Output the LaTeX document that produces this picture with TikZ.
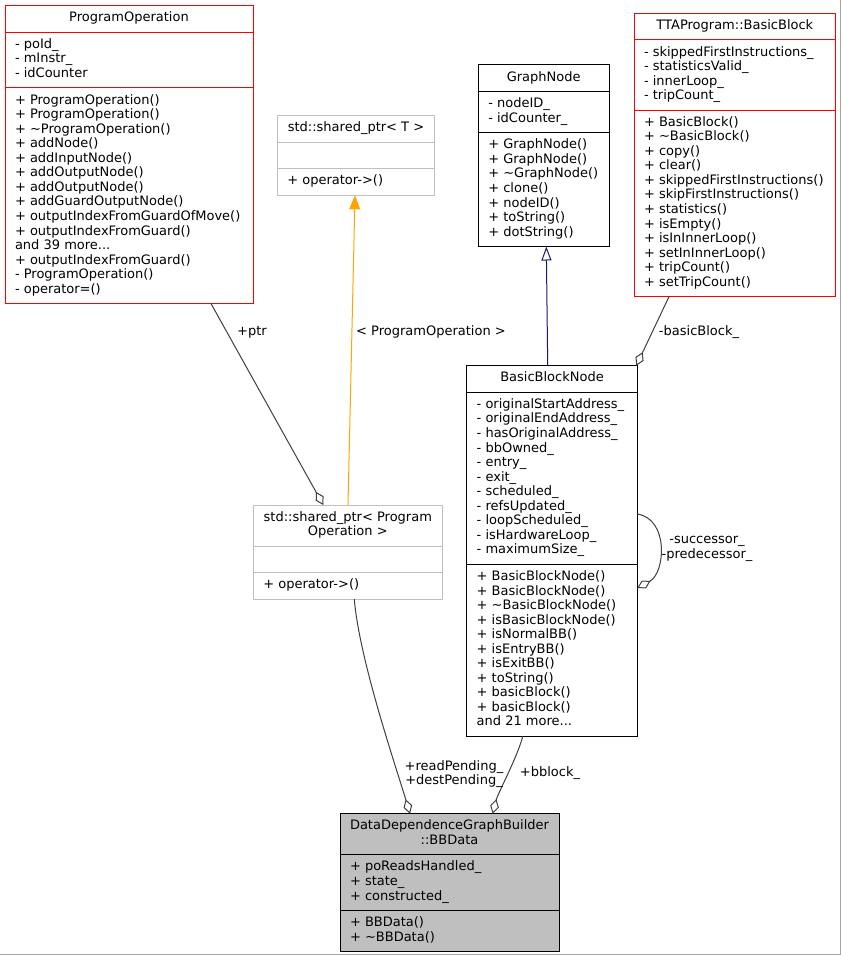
\documentclass[tikz,border=0pt]{standalone}
\usepackage{fontspec}
\setmainfont{DejaVu Sans}
\usetikzlibrary{shapes.multipart,arrows.meta}

\definecolor{edgegray}{RGB}{64,64,64}
\definecolor{inheritblue}{RGB}{25,25,112}
\definecolor{tmplorange}{RGB}{255,165,0}
\definecolor{boxgray}{RGB}{191,191,191}
\definecolor{boxred}{RGB}{255,0,0}

\newcommand{\dgfont}{\fontsize{13}{14.55}\selectfont}
\newcommand{\rows}[1]{\begin{tabular}{@{}l@{}}#1\end{tabular}}
\newcommand{\ctitle}[1]{\begin{tabular}{@{}c@{}}#1\end{tabular}}

\begin{document}
\begin{tikzpicture}[x=1pt, y=-1pt]
    \useasboundingbox (0,0) rectangle (841,955);
    \fill[white] (0,0) rectangle (841,955);
    \draw[gray!70, line width=1pt] (840.5,0) -- (840.5,954.5) -- (0,954.5);

    \tikzstyle{cls}=[rectangle split, rectangle split parts=3, rectangle split part align={center,left,left}, draw=black, fill=white, line width=1pt, inner xsep=10pt, inner ysep=5.5pt, outer sep=0pt, anchor=north west, font=\dgfont]
    \tikzstyle{lbl}=[inner sep=0pt, align=center, font=\dgfont]

    \node[cls, draw=boxred, minimum width=248pt] (PO) at (5,5.7) {\ctitle{ProgramOperation}
        \nodepart{two}\rows{- poId\_\\- mInstr\_\\- idCounter}
        \nodepart{three}\rows{+ ProgramOperation()\\+ ProgramOperation()\\+ \textasciitilde ProgramOperation()\\+ addNode()\\+ addInputNode()\\+ addOutputNode()\\+ addOutputNode()\\+ addGuardOutputNode()\\+ outputIndexFromGuardOfMove()\\+ outputIndexFromGuard()\\and 39 more...\\+ outputIndexFromGuard()\\- ProgramOperation()\\- operator=()}};
    \node[cls, draw=boxgray, minimum width=157.4pt] (SPT) at (277.3,115.7) {\ctitle{std::shared\_ptr< T >}
        \nodepart{two}\strut
        \nodepart{three}\rows{+ operator->()}};
    \node[cls, minimum width=130.7pt] (GN) at (478.3,65) {\ctitle{GraphNode}
        \nodepart{two}\rows{- nodeID\_\\- idCounter\_}
        \nodepart{three}\rows{+ GraphNode()\\+ GraphNode()\\+ \textasciitilde GraphNode()\\+ clone()\\+ nodeID()\\+ toString()\\+ dotString()}};
    \node[cls, draw=boxred, minimum width=201.7pt] (BB) at (634,13.3) {\ctitle{TTAProgram::BasicBlock}
        \nodepart{two}\rows{- skippedFirstInstructions\_\\- statisticsValid\_\\- innerLoop\_\\- tripCount\_}
        \nodepart{three}\rows{+ BasicBlock()\\+ \textasciitilde BasicBlock()\\+ copy()\\+ clear()\\+ skippedFirstInstructions()\\+ skipFirstInstructions()\\+ statistics()\\+ isEmpty()\\+ isInInnerLoop()\\+ setInInnerLoop()\\+ tripCount()\\+ setTripCount()}};
    \node[cls, minimum width=170.6pt] (BBN) at (466.7,365.7) {\ctitle{BasicBlockNode}
        \nodepart{two}\rows{- originalStartAddress\_\\- originalEndAddress\_\\- hasOriginalAddress\_\\- bbOwned\_\\- entry\_\\- exit\_\\- scheduled\_\\- refsUpdated\_\\- loopScheduled\_\\- isHardwareLoop\_\\- maximumSize\_}
        \nodepart{three}\rows{+ BasicBlockNode()\\+ BasicBlockNode()\\+ \textasciitilde BasicBlockNode()\\+ isBasicBlockNode()\\+ isNormalBB()\\+ isEntryBB()\\+ isExitBB()\\+ toString()\\+ basicBlock()\\+ basicBlock()\\and 21 more...}};
    \node[cls, draw=boxgray, minimum width=189pt] (SPPO) at (253.3,505) {\ctitle{std::shared\_ptr< Program\\Operation >}
        \nodepart{two}\strut
        \nodepart{three}\rows{+ operator->()}};
    \node[cls, fill=boxgray, minimum width=218.3pt] (BBData) at (340,813.7) {\ctitle{DataDependenceGraphBuilder\\::BBData}
        \nodepart{two}\rows{+ poReadsHandled\_\\+ state\_\\+ constructed\_}
        \nodepart{three}\rows{+ BBData()\\+ \textasciitilde BBData()}};

    \tikzstyle{agg}=[edgegray, line width=1pt, {Diamond[open,length=15pt,width=9pt]}-]
    \tikzstyle{inherit}=[inheritblue, line width=1pt, -{Triangle[open,length=14pt,width=10pt]}]
    \tikzstyle{tmpl}=[tmplorange, line width=1pt, -{Triangle[length=14pt,width=11pt]}]

    \draw[agg] ([xshift=70pt]SPPO.north west) -- ([xshift=206pt]PO.south west);
    \draw[tmpl] ([xshift=94.7pt]SPPO.north west) -- ([xshift=77.7pt]SPT.south west);
    \draw[inherit] ([xshift=81pt]BBN.north west) -- ([xshift=68pt]GN.south west);
    \draw[agg] ([xshift=-1pt]BBN.north east) -- ([xshift=35pt]BB.south west);
    \draw[agg] ([yshift=-37pt]BBN.east) .. controls +(28,-15) and +(32,5) .. ([yshift=37pt]BBN.east);
    \draw[agg] ([xshift=70pt]BBData.north west) .. controls +(-15,-50) and +(5,60) .. ([xshift=101pt]SPPO.south west);
    \draw[agg] ([xshift=152.7pt]BBData.north west) .. controls +(5,-20) and +(-5,20) .. ([xshift=56pt]BBN.south west);

    \node[lbl] (ptrlbl) at (252,332) {+ptr};
    \node[lbl] (polbl) at (431,332) {< ProgramOperation >};
    \node[lbl] (bblbl) at (699,332) {-basicBlock\_};
    \node[lbl] (sucplbl) at (707,549) {-successor\_\\-predecessor\_};
    \node[lbl] (pendlbl) at (454,774) {+readPending\_\\+destPending\_};
    \node[lbl] (bblocklbl) at (550,773) {+bblock\_};
\end{tikzpicture}
\end{document}
